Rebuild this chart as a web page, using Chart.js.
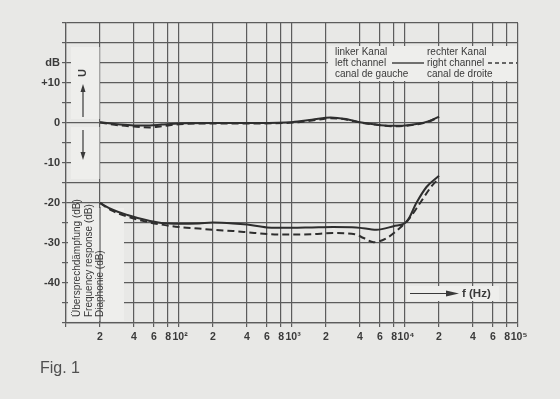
<!DOCTYPE html>
<html><head><meta charset="utf-8">
<script src="https://cdn.jsdelivr.net/npm/chart.js@4/dist/chart.umd.min.js"></script>
<style>
html,body{margin:0;padding:0;background:#e8e8e6;}
#wrap{position:relative;width:560px;height:399px;}
canvas{display:block;}
</style></head><body>
<div id="wrap"><canvas id="c" width="560" height="399"></canvas></div>
<script>
// ---- tick definitions ----
const xTickValues = [10,20,40,60,80,100,200,400,600,800,1000,2000,4000,6000,8000,10000,20000,40000,60000,80000,100000];
const xTickLabels = ['','2','4','6','8','\u200910²','2','4','6','8','\u200910³','2','4','6','8','\u200910⁴','2','4','6','8','\u200910⁵'];
const yTickValues = [-50,-45,-40,-35,-30,-25,-20,-15,-10,-5,0,5,10,15,20,25];
const yTickLabels = ['','','-40','','-30','','-20','','-10','','0','','+10','dB','',''];

// ---- frequency response (dB) ----
const frFreq  = [20,30,40,55,70,100,200,500,1000,1500,2200,3000,4000,5500,7500,10000,13000,16000,20000];
const frLeft  = [0.2,-0.4,-0.6,-0.6,-0.4,-0.1,0,0,0.2,0.8,1.4,1.0,0.2,-0.4,-0.7,-0.6,-0.2,0.4,1.6];
const frRight = [0.1,-0.6,-0.9,-1.1,-0.8,-0.3,-0.1,-0.1,0.1,0.6,1.2,0.9,0.1,-0.4,-0.8,-0.7,-0.3,0.3,1.5];

// ---- crosstalk (dB) ----
const ctLeftFreq  = [20,25,35,50,70,100,150,200,300,400,600,1000,1500,2300,3700,5600,7900,10400,12600,15500,20000];
const ctLeft      = [-20,-21.5,-23,-24.2,-25,-25.2,-25.1,-24.9,-25.1,-25.4,-26.1,-26.2,-26.1,-26.0,-26.1,-26.7,-25.8,-24.6,-20,-16,-13.2];
const ctRightFreq = [20,25,35,50,70,100,150,200,300,400,600,1000,1500,2300,3600,4300,5300,6900,9000,11000,13600,17200,20000];
const ctRight     = [-20,-21.8,-23.4,-24.6,-25.4,-26.0,-26.4,-26.7,-27.0,-27.3,-27.75,-27.9,-27.8,-27.5,-27.8,-28.75,-29.8,-28.75,-26.25,-23.75,-20,-15.8,-13.8];

const zip = (xs, ys) => xs.map((v, i) => ({x: v, y: ys[i]}));
const isXTick = v => xTickValues.some(t => Math.abs(t - v) / t < 1e-6);
const xLabel = v => { const i = xTickValues.findIndex(t => Math.abs(t - v) / t < 1e-6); return i < 0 ? '' : xTickLabels[i]; };

const INK = '#3a3a3a';
const GRID = '#5c5c5c';
const BOX = '#eeeeec';
const FONT = '"Liberation Sans", Arial, sans-serif';

const annot = {
  id: 'annot',
  beforeDatasetsDraw(chart) {
    const {ctx, scales: {x, y}} = chart;
    ctx.save();
    ctx.fillStyle = BOX;
    ctx.fillRect(71, 47, 28.5, 72);      // upper arrow
    ctx.fillRect(71, 127, 28.5, 52);     // lower arrow
    ctx.fillRect(68, 208, 56, 113);      // rotated axis titles
    ctx.fillRect(328, 46, 188.5, 35);    // legend
    ctx.fillRect(407, 286, 92, 15);      // f (Hz)
    const x20 = x.getPixelForValue(20);
    ctx.strokeStyle = GRID; ctx.lineWidth = 1.2;
    ctx.beginPath(); ctx.moveTo(x20, 207); ctx.lineTo(x20, 322); ctx.stroke();
    ctx.restore();
  },
  afterDatasetsDraw(chart) {
    const {ctx} = chart;
    ctx.save();
    ctx.fillStyle = INK; ctx.strokeStyle = INK;
    ctx.lineWidth = 1.2;
    ctx.beginPath(); ctx.moveTo(83, 117); ctx.lineTo(83, 90); ctx.stroke();
    ctx.beginPath(); ctx.moveTo(83, 84); ctx.lineTo(80.5, 92); ctx.lineTo(85.5, 92); ctx.closePath(); ctx.fill();
    ctx.beginPath(); ctx.moveTo(83, 130); ctx.lineTo(83, 153); ctx.stroke();
    ctx.beginPath(); ctx.moveTo(83, 160); ctx.lineTo(80.5, 152); ctx.lineTo(85.5, 152); ctx.closePath(); ctx.fill();
    ctx.save();
    ctx.translate(83, 73); ctx.rotate(-Math.PI/2);
    ctx.font = 'bold 11px ' + FONT; ctx.textAlign = 'center'; ctx.textBaseline = 'middle';
    ctx.fillText('U', 0, 0);
    ctx.restore();
    ctx.font = '10px ' + FONT; ctx.textAlign = 'left'; ctx.textBaseline = 'middle';
    [['Übersprechdämpfung (dB)', 77], ['Frequency response (dB)', 89.5], ['Diaphonie (dB)', 100.5]].forEach(([t, px]) => {
      ctx.save(); ctx.translate(px, 317); ctx.rotate(-Math.PI/2); ctx.fillText(t, 0, 0); ctx.restore();
    });
    ctx.font = '10px ' + FONT; ctx.textAlign = 'left'; ctx.textBaseline = 'middle';
    ctx.fillText('linker Kanal', 335, 52);
    ctx.fillText('left channel', 335, 63);
    ctx.fillText('canal de gauche', 335, 74);
    ctx.fillText('rechter Kanal', 427, 52);
    ctx.fillText('right channel', 427, 63);
    ctx.fillText('canal de droite', 427, 74);
    ctx.lineWidth = 1.4;
    ctx.beginPath(); ctx.moveTo(392, 63); ctx.lineTo(424, 63); ctx.stroke();
    ctx.setLineDash([4, 3]);
    ctx.beginPath(); ctx.moveTo(488, 63); ctx.lineTo(517, 63); ctx.stroke();
    ctx.setLineDash([]);
    ctx.lineWidth = 1.2;
    ctx.beginPath(); ctx.moveTo(410, 293.5); ctx.lineTo(450, 293.5); ctx.stroke();
    ctx.beginPath(); ctx.moveTo(459, 293.5); ctx.lineTo(446, 290.5); ctx.lineTo(446, 296.5); ctx.closePath(); ctx.fill();
    ctx.font = 'bold 11.5px ' + FONT; ctx.textBaseline = 'middle';
    ctx.fillText('f (Hz)', 462, 294);
    ctx.fillStyle = '#505050';
    ctx.font = '16px ' + FONT; ctx.textBaseline = 'alphabetic';
    ctx.fillText('Fig. 1', 40, 373);
    ctx.restore();
  }
};

const solid = {borderColor: '#2e2e2e', borderWidth: 2, pointRadius: 0, fill: false, cubicInterpolationMode: 'monotone'};
const dashed = Object.assign({}, solid, {borderDash: [7, 4]});

new Chart(document.getElementById('c'), {
  type: 'line',
  data: {
    datasets: [
      Object.assign({label: 'Frequency response – left channel', data: zip(frFreq, frLeft)}, solid),
      Object.assign({label: 'Frequency response – right channel', data: zip(frFreq, frRight)}, dashed),
      Object.assign({label: 'Crosstalk – left channel', data: zip(ctLeftFreq, ctLeft)}, solid),
      Object.assign({label: 'Crosstalk – right channel', data: zip(ctRightFreq, ctRight)}, dashed)
    ]
  },
  options: {
    responsive: false,
    animation: false,
    layout: {padding: {top: 23, right: 42, left: 0, bottom: 0}},
    plugins: {legend: {display: false}, tooltip: {enabled: false}},
    scales: {
      x: {
        type: 'logarithmic', min: 10, max: 100000,
        afterBuildTicks: s => { s.ticks = xTickValues.map(v => ({value: v})); },
        afterFit: s => { s.height = 76; },
        ticks: {autoSkip: false, maxRotation: 0, minRotation: 0, padding: 4,
          callback: v => xLabel(v),
          color: INK, font: {family: FONT, size: 10.5, weight: 'bold'}},
        grid: {color: c => (c.tick && isXTick(c.tick.value)) ? GRID : 'rgba(0,0,0,0)', lineWidth: 1.2, tickLength: 4},
        border: {color: GRID, width: 1.2}
      },
      y: {
        type: 'linear', min: -50, max: 25,
        afterBuildTicks: s => { s.ticks = yTickValues.map(v => ({value: v})); },
        afterFit: s => { s.width = 66; },
        ticks: {autoSkip: false, padding: 2,
          callback: (v) => yTickLabels[yTickValues.indexOf(v)],
          color: INK, font: {family: FONT, size: 11, weight: 'bold'}},
        grid: {color: GRID, lineWidth: 1.2, tickLength: 4},
        border: {color: GRID, width: 1.2}
      }
    }
  },
  plugins: [annot]
});
</script>
</body></html>
